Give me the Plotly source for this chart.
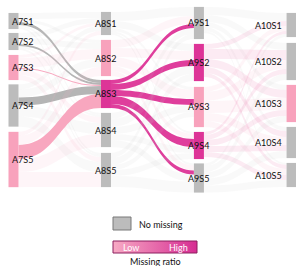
import plotly.graph_objects as go

# ---------------- data ----------------
visits = ["A7", "A8", "A9", "A10"]
states = ["S1", "S2", "S3", "S4", "S5"]

# missing-data status of each node (none / low / high missing ratio)
missing_A7 = ["none", "none", "low", "none", "low"]
missing_A8 = ["none", "low", "high", "none", "none"]
missing_A9 = ["none", "high", "low", "high", "none"]
missing_A10 = ["none", "none", "low", "none", "none"]

# transition counts, rows = source state S1..S5, cols = target state S1..S5
flow_A7_A8 = [
    [6, 3, 3, 2, 2],
    [5, 6, 2, 2, 2],
    [3, 10, 1, 6, 5],
    [5, 8, 8, 11, 10],
    [4, 9, 14, 13, 15],
]
flow_A8_A9 = [
    [9, 7, 3, 2, 2],
    [8, 9, 9, 5, 5],
    [4, 6, 6, 8, 4],
    [6, 8, 7, 6, 7],
    [5, 7, 5, 6, 11],
]
flow_A9_A10 = [
    [8, 7, 5, 4, 2],
    [5, 10, 8, 6, 4],
    [5, 9, 12, 8, 6],
    [3, 5, 6, 6, 5],
    [3, 6, 6, 7, 7],
]
focus = ("A8", "S3")

# ---------------- layout constants ----------------
FIG_W, FIG_H = 296, 266
SANKEY_H = 200
col_x = [0.0456, 0.358, 0.672, 0.985]
node_center_px = [
    [21, 41.5, 67.5, 105.5, 159.5],
    [23.5, 58, 94, 130, 170],
    [23, 62.5, 107, 145.5, 178],
    [25, 61.5, 103.5, 142.5, 175],
]
NODE_W = 10
FONT = "Lato, 'Open Sans', sans-serif"

GRAY = "rgb(188,188,188)"
PINK = "rgb(248,162,188)"
MAGENTA = "rgb(221,52,151)"
node_col = {"none": GRAY, "low": PINK, "high": MAGENTA}
link_strong = {"none": "rgba(168,168,168,0.85)", "low": "rgba(248,162,188,0.95)",
               "high": "rgba(221,52,151,0.95)"}
link_faint = {"none": "rgba(200,200,200,0.11)", "low": "rgba(245,170,195,0.12)",
              "high": "rgba(236,120,175,0.15)"}

missing = [missing_A7, missing_A8, missing_A9, missing_A10]
flows = [flow_A7_A8, flow_A8_A9, flow_A9_A10]

labels, colors, xs, ys = [], [], [], []
for c, v in enumerate(visits):
    for s_i, s in enumerate(states):
        labels.append(v + s)
        colors.append(node_col[missing[c][s_i]])
        xs.append(col_x[c])
        ys.append(node_center_px[c][s_i] / SANKEY_H)

focus_idx = visits.index(focus[0]) * 5 + states.index(focus[1])

src, tgt, val, lcol = [], [], [], []
for c, mat in enumerate(flows):
    for i, row in enumerate(mat):
        for j, n in enumerate(row):
            if n <= 0:
                continue
            s = c * 5 + i
            t = (c + 1) * 5 + j
            src.append(s)
            tgt.append(t)
            val.append(n)
            status = missing[c][i]
            if s == focus_idx or t == focus_idx:
                lcol.append(link_strong[status])
            else:
                lcol.append(link_faint[status])

fig = go.Figure()
fig.add_trace(go.Sankey(
    arrangement="fixed",
    domain=dict(x=[0, 1], y=[1 - SANKEY_H / FIG_H, 1]),
    node=dict(label=[""] * len(labels), color=colors, x=xs, y=ys,
              pad=8.5, thickness=NODE_W, line=dict(width=0),
              customdata=labels, hovertemplate="%{customdata}<extra></extra>"),
    link=dict(source=src, target=tgt, value=val, color=lcol),
))

annotations = []
for c, v in enumerate(visits):
    for s_i, s in enumerate(states):
        cx = col_x[c] * FIG_W
        yp = 1 - node_center_px[c][s_i] / FIG_H
        if c == 0:
            x, anchor = (cx - NODE_W / 2 + 2) / FIG_W, "left"
        elif c == len(visits) - 1:
            x, anchor = (cx - NODE_W / 2 - 3) / FIG_W, "right"
        else:
            x, anchor = cx / FIG_W, "center"
        annotations.append(dict(x=x, y=yp, xref="paper", yref="paper", text=v + s,
                                showarrow=False, xanchor=anchor, yanchor="middle",
                                font=dict(family=FONT, size=9, color="#111")))

# legend: no missing box
annotations.append(dict(x=137 / FIG_W, y=1 - 224 / FIG_H, xref="paper", yref="paper",
                        text="No missing", showarrow=False, xanchor="left", yanchor="middle",
                        font=dict(family=FONT, size=9, color="#111")))
annotations.append(dict(x=121 / FIG_W, y=1 - 247 / FIG_H, xref="paper", yref="paper",
                        text="Low", showarrow=False, xanchor="left", yanchor="middle",
                        font=dict(family=FONT, size=9, color="white")))
annotations.append(dict(x=190 / FIG_W, y=1 - 247 / FIG_H, xref="paper", yref="paper",
                        text="High", showarrow=False, xanchor="right", yanchor="middle",
                        font=dict(family=FONT, size=9, color="white")))
annotations.append(dict(x=155 / FIG_W, y=1 - 261 / FIG_H, xref="paper", yref="paper",
                        text="Missing ratio", showarrow=False, xanchor="center", yanchor="middle",
                        font=dict(family=FONT, size=9, color="#111")))

# gradient bar (filled rectangle with horizontal gradient)
fig.add_trace(go.Scatter(x=[0, 1, 1, 0, 0], y=[0, 0, 1, 1, 0], mode="lines",
                         fill="toself", line=dict(width=0, color="rgba(0,0,0,0)"),
                         fillgradient=dict(type="horizontal",
                                           colorscale=[[0, "rgb(247,170,196)"],
                                                       [1, "rgb(214,44,146)"]]),
                         hoverinfo="skip", xaxis="x", yaxis="y"))

shapes = [
    dict(type="rect", xref="paper", yref="paper", x0=113 / FIG_W, x1=131 / FIG_W,
         y0=1 - 230 / FIG_H, y1=1 - 217 / FIG_H, fillcolor=GRAY,
         line=dict(color="rgb(120,120,120)", width=1)),
    dict(type="rect", xref="paper", yref="paper", x0=113 / FIG_W, x1=197 / FIG_W,
         y0=1 - 253 / FIG_H, y1=1 - 241 / FIG_H, fillcolor="rgba(0,0,0,0)",
         line=dict(color="rgb(140,30,95)", width=1)),
]

fig.update_layout(
    width=FIG_W, height=FIG_H,
    margin=dict(l=0, r=0, t=0, b=0),
    paper_bgcolor="white", plot_bgcolor="white",
    xaxis=dict(domain=[113 / FIG_W, 197 / FIG_W], range=[0, 1], visible=False, fixedrange=True),
    yaxis=dict(domain=[1 - 253 / FIG_H, 1 - 241 / FIG_H], range=[0, 1], visible=False, fixedrange=True),
    annotations=annotations, shapes=shapes, showlegend=False,
    font=dict(family=FONT),
)

fig.write_html("out.html", config={"displayModeBar": False},
               post_script="document.body.style.margin='0';document.body.style.overflow='hidden';")
